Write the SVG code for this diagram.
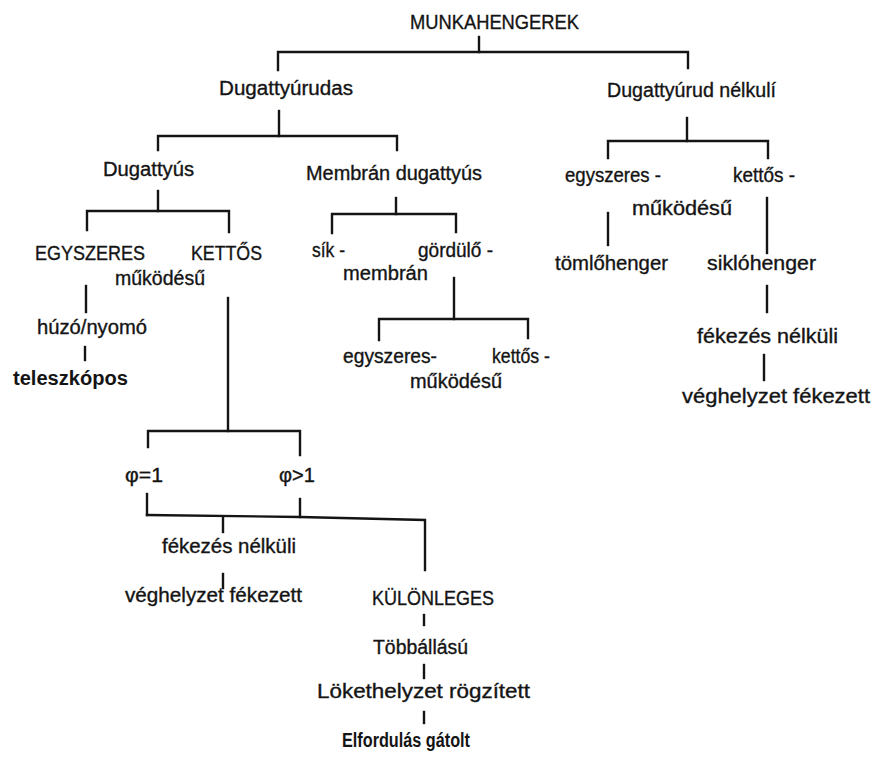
<svg xmlns="http://www.w3.org/2000/svg" width="873" height="762" viewBox="0 0 873 762">
<style>
text{font-family:"Liberation Sans",Arial,sans-serif;font-size:20px;fill:#141414;stroke:#141414;stroke-width:0.35}
.b{font-weight:bold;stroke-width:0}
.c line,.c polyline{stroke:#141414;stroke-width:2.4;fill:none;stroke-linecap:square}
</style>
<rect width="873" height="762" fill="#fff"/>
<g class="c" id="connectors">
<line x1="479" y1="37" x2="479" y2="52"/>
<polyline points="278,70 278,52 688,52 688,68"/>
<line x1="279" y1="111" x2="279" y2="136"/>
<polyline points="158,150 158,136 397,136 397,150"/>
<line x1="687" y1="118" x2="687" y2="141"/>
<polyline points="608,158 608,141 768,141 768,158"/>
<line x1="158" y1="191" x2="158" y2="211"/>
<polyline points="87,230 87,211 229,211 229,232"/>
<line x1="396" y1="198" x2="396" y2="214"/>
<polyline points="332,233 332,214 456,214 456,232"/>
<line x1="86" y1="286" x2="86" y2="312"/>
<line x1="85" y1="347" x2="85" y2="360"/>
<line x1="228" y1="298" x2="228" y2="431"/>
<polyline points="148,447 148,431 300,431 300,455"/>
<line x1="147" y1="494" x2="147" y2="515"/>
<line x1="300" y1="499" x2="300" y2="517"/>
<polyline points="147,515 300,517 425,520 425,570"/>
<line x1="223" y1="517" x2="223" y2="532"/>
<line x1="223" y1="574" x2="223" y2="588"/>
<line x1="424" y1="615" x2="424" y2="625"/>
<line x1="424" y1="665" x2="424" y2="678"/>
<line x1="424" y1="712" x2="424" y2="723"/>
<line x1="454" y1="278" x2="454" y2="319"/>
<polyline points="379,340 379,319 528,319 528,338"/>
<line x1="608" y1="213" x2="608" y2="245"/>
<line x1="767" y1="198" x2="767" y2="253"/>
<line x1="767" y1="286" x2="767" y2="312"/>
<line x1="764" y1="355" x2="764" y2="380"/>
</g>
<g id="n-munkahengerek"><text x="410" y="29" textLength="169" lengthAdjust="spacingAndGlyphs">MUNKAHENGEREK</text></g>
<g id="n-dugattyurudas"><text x="219" y="95" textLength="134" lengthAdjust="spacingAndGlyphs">Dugattyúrudas</text></g>
<g id="n-dugattyurud-nelkuli"><text x="607" y="97" textLength="169" lengthAdjust="spacingAndGlyphs">Dugattyúrud nélkulí</text></g>
<g id="n-dugattyus"><text x="103" y="176" textLength="91" lengthAdjust="spacingAndGlyphs">Dugattyús</text></g>
<g id="n-membran-dugattyus"><text x="306" y="180" textLength="176" lengthAdjust="spacingAndGlyphs">Membrán dugattyús</text></g>
<g id="n-r-egyszeres-kettos">
<text x="565" y="182" textLength="96" lengthAdjust="spacingAndGlyphs">egyszeres -</text>
<text x="733" y="182" textLength="62" lengthAdjust="spacingAndGlyphs">kettős -</text>
<text x="632" y="215" textLength="100" lengthAdjust="spacingAndGlyphs">működésű</text>
</g>
<g id="n-tomlohenger"><text x="555" y="270" textLength="113" lengthAdjust="spacingAndGlyphs">tömlőhenger</text></g>
<g id="n-siklohenger"><text x="707" y="270" textLength="109" lengthAdjust="spacingAndGlyphs">siklóhenger</text></g>
<g id="n-r-fekezes-nelkuli"><text x="697" y="343" textLength="141" lengthAdjust="spacingAndGlyphs">fékezés nélküli</text></g>
<g id="n-r-veghelyzet"><text x="682" y="403" textLength="188" lengthAdjust="spacingAndGlyphs">véghelyzet fékezett</text></g>
<g id="n-l-egyszeres-kettos">
<text x="35" y="260" textLength="110" lengthAdjust="spacingAndGlyphs">EGYSZERES</text>
<text x="191" y="260" textLength="71" lengthAdjust="spacingAndGlyphs">KETTŐS</text>
<text x="115" y="285" textLength="90" lengthAdjust="spacingAndGlyphs">működésű</text>
</g>
<g id="n-huzo-nyomo"><text x="37" y="334" textLength="110" lengthAdjust="spacingAndGlyphs">húzó/nyomó</text></g>
<g id="n-teleszkopos"><text class="b" x="13" y="385" textLength="115" lengthAdjust="spacingAndGlyphs">teleszkópos</text></g>
<g id="n-sik-gordulo">
<text x="312" y="257" textLength="33" lengthAdjust="spacingAndGlyphs">sík -</text>
<text x="418" y="257" textLength="75" lengthAdjust="spacingAndGlyphs">gördülő -</text>
<text x="343" y="280" textLength="85" lengthAdjust="spacingAndGlyphs">membrán</text>
</g>
<g id="n-m-egyszeres-kettos">
<text x="343" y="363" textLength="94" lengthAdjust="spacingAndGlyphs">egyszeres-</text>
<text x="492" y="363" textLength="58" lengthAdjust="spacingAndGlyphs">kettős -</text>
<text x="410" y="388" textLength="92" lengthAdjust="spacingAndGlyphs">működésű</text>
</g>
<g id="n-phi1"><text x="125" y="482" textLength="38" lengthAdjust="spacingAndGlyphs">φ=1</text></g>
<g id="n-phi-gt1"><text x="279" y="482" textLength="36" lengthAdjust="spacingAndGlyphs">φ&gt;1</text></g>
<g id="n-m-fekezes-nelkuli"><text x="162" y="553" textLength="134" lengthAdjust="spacingAndGlyphs">fékezés nélküli</text></g>
<g id="n-m-veghelyzet"><text x="125" y="602" textLength="177" lengthAdjust="spacingAndGlyphs">véghelyzet fékezett</text></g>
<g id="n-kulonleges"><text x="372" y="605" textLength="122" lengthAdjust="spacingAndGlyphs">KÜLÖNLEGES</text></g>
<g id="n-tobballasu"><text x="373" y="654" textLength="95" lengthAdjust="spacingAndGlyphs">Többállású</text></g>
<g id="n-lokethelyzet"><text x="317" y="698" textLength="213" lengthAdjust="spacingAndGlyphs">Lökethelyzet rögzített</text></g>
<g id="n-elfordulas"><text class="b" x="342" y="747" textLength="128" lengthAdjust="spacingAndGlyphs">Elfordulás gátolt</text></g>
</svg>
